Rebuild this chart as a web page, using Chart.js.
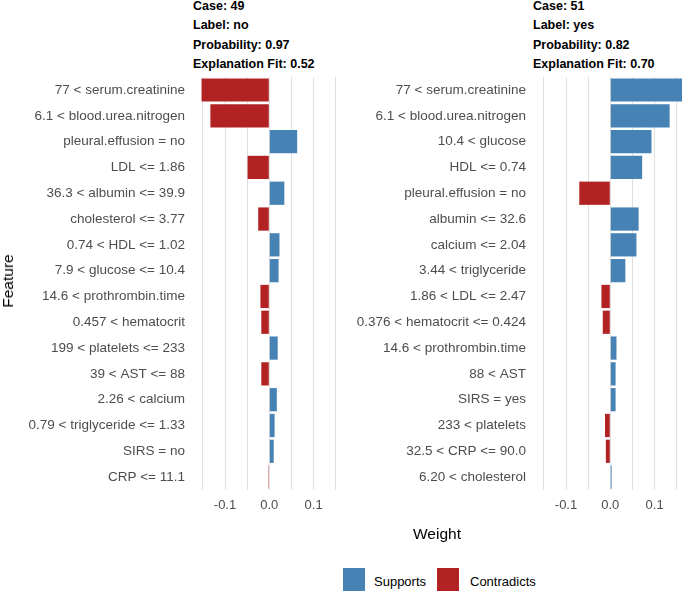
<!DOCTYPE html>
<html><head><meta charset="utf-8">
<script src="https://cdn.jsdelivr.net/npm/chart.js@4.4.1/dist/chart.umd.min.js"></script>
<style>
html,body{margin:0;padding:0;background:#fff;width:682px;height:591px;overflow:hidden;position:relative;font-family:"Liberation Sans",Arial,sans-serif;}
.cv{position:absolute;}
.ttl{position:absolute;font-weight:bold;font-size:12.5px;line-height:19.3px;color:#000;white-space:nowrap;}
#weight{position:absolute;left:0;width:874px;text-align:center;top:525px;font-size:15.5px;color:#000;}
#feature{position:absolute;left:8px;top:281px;font-size:15.5px;color:#000;transform:translate(-50%,-50%) rotate(-90deg);white-space:nowrap;}
.lg{position:absolute;top:568px;width:22px;height:24px;}
.lt{position:absolute;top:574px;font-size:13px;color:#000;}
</style></head>
<body>
<div class="ttl" id="t0" style="left:193px;top:-3px;"></div>
<div class="ttl" id="t1" style="left:533px;top:-3px;"></div>
<canvas id="c0" class="cv" style="left:0px;top:60px;"></canvas>
<canvas id="c1" class="cv" style="left:341px;top:60px;"></canvas>
<div id="weight">Weight</div>
<div id="feature">Feature</div>
<div class="lg" style="left:343px;background:#4682B4;"></div>
<div class="lt" style="left:374px;">Supports</div>
<div class="lg" style="left:437px;background:#B22222;"></div>
<div class="lt" style="left:470px;">Contradicts</div>
<script>
const titleLeft = ["Case: 49","Label: no","Probability: 0.97","Explanation Fit: 0.52"];
const titleRight = ["Case: 51","Label: yes","Probability: 0.82","Explanation Fit: 0.70"];

const leftFeatures = ["77 < serum.creatinine","6.1 < blood.urea.nitrogen","pleural.effusion = no","LDL <= 1.86","36.3 < albumin <= 39.9","cholesterol <= 3.77","0.74 < HDL <= 1.02","7.9 < glucose <= 10.4","14.6 < prothrombin.time","0.457 < hematocrit","199 < platelets <= 233","39 < AST <= 88","2.26 < calcium","0.79 < triglyceride <= 1.33","SIRS = no","CRP <= 11.1"];
const leftWeights = [-0.153,-0.133,0.063,-0.049,0.034,-0.025,0.023,0.021,-0.020,-0.018,0.019,-0.018,0.017,0.012,0.010,-0.002];

const rightFeatures = ["77 < serum.creatinine","6.1 < blood.urea.nitrogen","10.4 < glucose","HDL <= 0.74","pleural.effusion = no","albumin <= 32.6","calcium <= 2.04","3.44 < triglyceride","1.86 < LDL <= 2.47","0.376 < hematocrit <= 0.424","14.6 < prothrombin.time","88 < AST","SIRS = yes","233 < platelets","32.5 < CRP <= 90.0","6.20 < cholesterol"];
const rightWeights = [0.165,0.134,0.093,0.072,-0.070,0.064,0.059,0.034,-0.020,-0.017,0.014,0.012,0.012,-0.012,-0.010,0.003];

const gridValues = [-0.15,-0.1,-0.05,0,0.05,0.1,0.15];
const tickLabelValues = [-0.1,0,0.1];
const xMin = -0.17, xMax = 0.18;

const SUP = "#4682B4", CON = "#B22222";

document.getElementById('t0').innerHTML = titleLeft.join('<br>');
document.getElementById('t1').innerHTML = titleRight.join('<br>');

function makeChart(id, labels, values){
  const cv = document.getElementById(id);
  cv.width = 360; cv.height = 470;
  return new Chart(cv, {
    type:'bar',
    data:{labels:labels, datasets:[{data:values,
      backgroundColor:values.map(v=>v>=0?SUP:CON),
      borderWidth:0, barPercentage:0.9, categoryPercentage:1}]},
    options:{
      responsive:false, animation:false, indexAxis:'y',
      layout:{padding:{top:15,right:11,left:0,bottom:0}},
      plugins:{legend:{display:false},tooltip:{enabled:false}},
      scales:{
        x:{type:'linear',min:xMin,max:xMax,
          afterBuildTicks:s=>{s.ticks=gridValues.map(v=>({value:v}));},
          afterFit:s=>{s.height=40;},
          border:{display:false},
          grid:{color:'#e0e0e0',lineWidth:1,drawTicks:false},
          ticks:{padding:8,color:'#4d4d4d',font:{family:'"Liberation Sans", Arial, sans-serif',size:13},
            autoSkip:false,maxRotation:0,
            callback:v=>tickLabelValues.some(t=>Math.abs(t-v)<1e-9)?v.toFixed(1):''}
        },
        y:{type:'category',
          afterFit:s=>{s.width=194;},
          border:{display:false},
          grid:{display:false,drawTicks:false},
          ticks:{padding:9,color:'#4d4d4d',autoSkip:false,font:{family:'"Liberation Sans", Arial, sans-serif',size:13.5}}
        }
      }
    }
  });
}
makeChart('c0', leftFeatures, leftWeights);
makeChart('c1', rightFeatures, rightWeights);
</script>
</body></html>
